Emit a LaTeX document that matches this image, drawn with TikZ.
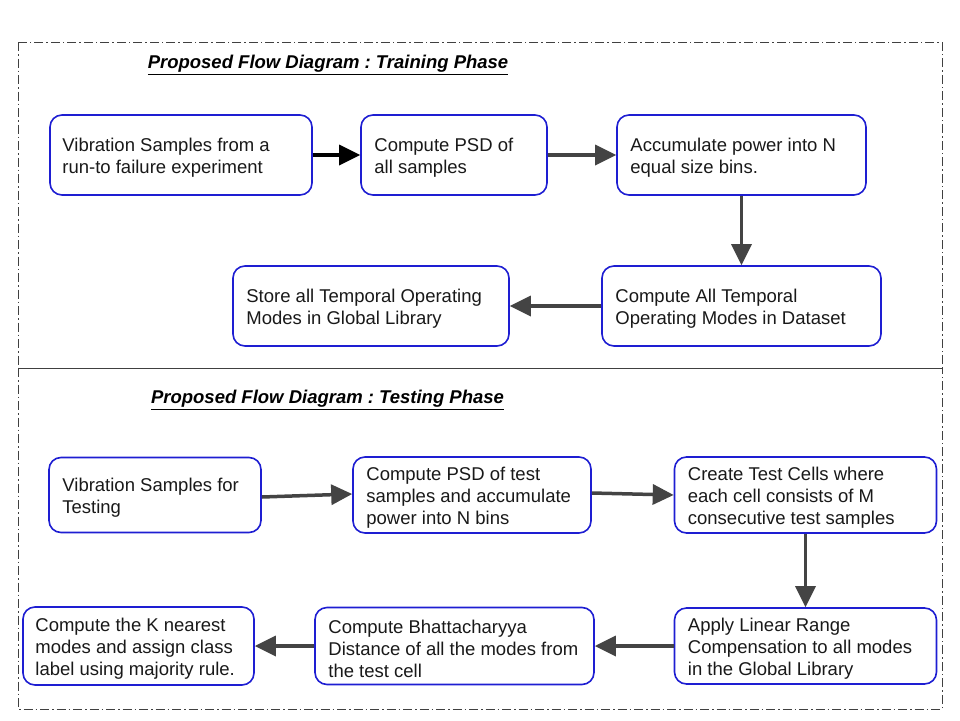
\documentclass[tikz,border=0pt]{standalone}
\usepackage{fontspec}
\setmainfont{Liberation Sans}
\usetikzlibrary{arrows.meta}
\frenchspacing
\definecolor{boxblue}{RGB}{30,30,210}
\definecolor{arrgray}{RGB}{68,68,68}
\tikzset{
  box/.style={draw=boxblue, line width=1.6pt, rounded corners=12pt, fill=white,
    inner sep=0pt, anchor=center},
  txt/.style={align=left, anchor=west, inner sep=0pt, yshift=-3pt,
    font=\fontsize{18.5}{21.9}\selectfont, text=black!90},
  arr/.style={draw=arrgray, line width=3.5pt, -{Triangle[length=21pt,width=20pt]}},
  arrk/.style={arr, draw=black},
  frame/.style={draw=black!75, line width=0.7pt, dash pattern=on 9pt off 3pt on 1.5pt off 3pt},
  ttl/.style={font=\fontsize{18.5}{21}\bfseries\itshape\selectfont, anchor=center, inner sep=0pt}
}
\begin{document}
\begin{tikzpicture}[x=1pt,y=-1pt]
\useasboundingbox (0,0) rectangle (960,720);
\fill[white] (0,0) rectangle (960,720);
% frames
\draw[frame] (18,42) rectangle (942,368);
\draw[frame] (18,368) rectangle (942,709);
% titles
\node[ttl] (t1) at (328,65) {\underline{Proposed Flow Diagram : Training Phase}};
\node[ttl] (t2) at (327.5,400) {\underline{Proposed Flow Diagram : Testing Phase}};
% training
\node[box, minimum width=262pt, minimum height=80pt] (a) at (181,155) {};
\node[txt] (at) at ([xshift=13pt]a.west) {Vibration Samples from a\\run-to failure experiment};
\node[box, minimum width=186pt, minimum height=80pt] (b) at (454,155) {};
\node[txt] (bt) at ([xshift=14pt]b.west) {Compute PSD of\\all samples};
\node[box, minimum width=249pt, minimum height=80pt] (c) at (741.5,155) {};
\node[txt] (ct) at ([xshift=14pt]c.west) {Accumulate power into N\\equal size bins.};
\node[box, minimum width=279pt, minimum height=80pt] (d) at (741.5,306) {};
\node[txt] (dt) at ([xshift=14pt]d.west) {Compute All Temporal\\Operating Modes in Dataset};
\node[box, minimum width=276pt, minimum height=80pt] (e) at (371,306) {};
\node[txt] (et) at ([xshift=14pt]e.west) {Store all Temporal Operating\\Modes in Global Library};
\draw[arrk] (a) -- (b);
\draw[arr] (b) -- (c);
\draw[arr] (c) -- (d);
\draw[arr] (d) -- (e);
% testing
\node[box, minimum width=212pt, minimum height=75pt] (f) at (155,495) {};
\node[txt] (ft) at ([xshift=14pt]f.west) {Vibration Samples for\\Testing};
\node[box, minimum width=238pt, minimum height=76pt] (g) at (472,495) {};
\node[txt] (gt) at ([xshift=14pt]g.west) {Compute PSD of test\\samples and accumulate\\power into N bins};
\node[box, minimum width=262pt, minimum height=76pt] (h) at (805.5,495) {};
\node[txt] (ht) at ([xshift=14pt]h.west) {Create Test Cells where\\each cell consists of M\\consecutive test samples};
\node[box, minimum width=262pt, minimum height=76pt] (i) at (805.5,646) {};
\node[txt] (it) at ([xshift=14pt]i.west) {Apply Linear Range\\Compensation to all modes\\in the Global Library};
\node[box, minimum width=279pt, minimum height=77pt] (j) at (454.5,646) {};
\node[txt] (jt) at ([xshift=14pt]j.west) {Compute Bhattacharyya\\Distance of all the modes from\\the test cell};
\node[box, minimum width=231pt, minimum height=78pt] (k) at (138.5,646) {};
\node[txt] (kt) at ([xshift=13pt]k.west) {Compute the K nearest\\modes and assign class\\label using majority rule.};
\draw[arr] (f.east |- 0,497) -- (g.west |- 0,494);
\draw[arr] (g.east |- 0,493) -- (h.west |- 0,495);
\draw[arr] (h) -- (i);
\draw[arr] (i) -- (j);
\draw[arr] (j) -- (k);
\end{tikzpicture}
\end{document}
